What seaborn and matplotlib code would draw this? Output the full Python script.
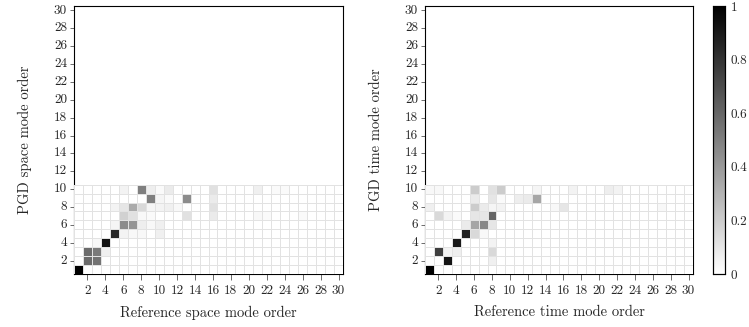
import numpy as np
import pandas as pd
import matplotlib
matplotlib.use("Agg")
import matplotlib.pyplot as plt
import seaborn as sns

# ---- data (sparse: PGD mode row, reference mode column, value) ----
space_rows = [1, 2, 2, 3, 3, 3, 4, 4, 5, 5, 5, 5, 5,
              6, 6, 6, 6, 6, 6,
              7, 7, 7, 7, 7, 7, 7, 7, 7,
              8, 8, 8, 8, 8, 8, 8, 8, 8,
              9, 9, 9, 9, 9,
              10, 10, 10, 10, 10, 10, 10, 10, 10]
space_cols = [1, 2, 3, 2, 3, 4, 3, 4, 5, 6, 7, 8, 10,
              5, 6, 7, 8, 9, 10,
              6, 7, 8, 9, 13, 16, 21, 22, 26,
              5, 6, 7, 8, 9, 10, 11, 12, 16,
              9, 10, 11, 13, 16,
              6, 8, 9, 10, 11, 16, 21, 23, 24]
space_vals = [1.0, 0.58, 0.55, 0.58, 0.52, 0.06, 0.03, 0.93, 0.85, 0.05, 0.03, 0.03, 0.06,
              0.04, 0.45, 0.42, 0.07, 0.03, 0.06,
              0.18, 0.12, 0.03, 0.02, 0.12, 0.08, 0.03, 0.02, 0.02,
              0.05, 0.10, 0.33, 0.15, 0.04, 0.05, 0.06, 0.03, 0.12,
              0.50, 0.04, 0.02, 0.45, 0.08,
              0.05, 0.50, 0.07, 0.02, 0.08, 0.12, 0.06, 0.02, 0.02]

time_rows = [1, 2, 2, 3, 3, 3, 3, 4, 4, 5, 5, 5,
             6, 6, 6, 6,
             7, 7, 7, 7, 7, 7,
             8, 8, 8, 8, 8, 8, 8, 8,
             9, 9, 9, 9, 9, 9,
             10, 10, 10, 10, 10, 10, 10, 10, 10]
time_cols = [1, 3, 8, 2, 3, 4, 8, 4, 8, 5, 6, 7,
             5, 6, 7, 8,
             2, 3, 4, 6, 7, 8,
             1, 6, 7, 8, 9, 15, 16, 27,
             6, 8, 9, 11, 12, 13,
             1, 2, 6, 8, 9, 13, 17, 21, 22]
time_vals = [1.0, 0.92, 0.06, 0.75, 0.05, 0.07, 0.15, 0.90, 0.05, 0.87, 0.15, 0.03,
             0.08, 0.35, 0.47, 0.10,
             0.15, 0.05, 0.02, 0.10, 0.10, 0.60,
             0.06, 0.20, 0.08, 0.04, 0.05, 0.03, 0.10, 0.03,
             0.08, 0.10, 0.02, 0.07, 0.08, 0.35,
             0.03, 0.03, 0.20, 0.12, 0.20, 0.04, 0.05, 0.07, 0.05]

n_pgd = 10
n_ref = 30
tick_labels = [str(v) for v in range(2, 31, 2)]
cbar_ticks = [0, 0.2, 0.4, 0.6, 0.8, 1]
cbar_labels = ["0", "0.2", "0.4", "0.6", "0.8", "1"]


def build(rows, cols, vals):
    m = np.zeros((n_pgd, n_ref))
    for r, c, v in zip(rows, cols, vals):
        m[r - 1, c - 1] = v
    return pd.DataFrame(m, index=range(1, n_pgd + 1), columns=range(1, n_ref + 1))


space_df = build(space_rows, space_cols, space_vals)
time_df = build(time_rows, time_cols, time_vals)

sns.set_theme(style="white")
plt.rcParams["font.family"] = ["cmr10", "DejaVu Serif"]
plt.rcParams["axes.formatter.use_mathtext"] = True
plt.rcParams["mathtext.fontset"] = "cm"

W, H = 749, 327
fig = plt.figure(figsize=(W / 100, H / 100), dpi=100)
bot, top = 53, 321
ax1 = fig.add_axes([74 / W, bot / H, 269 / W, (top - bot) / H])
ax2 = fig.add_axes([425 / W, bot / H, 268 / W, (top - bot) / H])
cax = fig.add_axes([713 / W, bot / H, 12 / W, (top - bot) / H])


def draw(ax, df, xlabel, ylabel, cbar):
    kw = dict(cmap="gray_r", vmin=0, vmax=1, linewidths=0.6, linecolor="#e2e2e2",
              square=False)
    if cbar:
        sns.heatmap(df, ax=ax, cbar=True, cbar_ax=cax, **kw)
    else:
        sns.heatmap(df, ax=ax, cbar=False, **kw)
    for coll in ax.collections:
        coll.set_zorder(3)
    ax.set_xlim(0, n_ref)
    ax.set_ylim(0, n_ref)
    ax.set_aspect("auto")
    for s in ax.spines.values():
        s.set_visible(True)
        s.set_color("black")
        s.set_linewidth(0.8)
    pos = [v - 0.5 for v in range(2, 31, 2)]
    ax.set_xticks(pos)
    ax.set_xticklabels(tick_labels, rotation=0)
    ax.set_yticks(pos)
    ax.set_yticklabels(tick_labels, rotation=0)
    ax.tick_params(axis="x", direction="out", length=4, width=0.6,
                   color="#555555", labelsize=9.5, pad=4, bottom=True)
    ax.tick_params(axis="y", direction="out", length=3, width=0.6,
                   color="#555555", labelsize=9.5, pad=2, left=True)
    ax.set_xlabel(xlabel, fontsize=10.5, labelpad=6)
    ax.set_ylabel(ylabel, fontsize=10.5, labelpad=16)


draw(ax1, space_df, "Reference space mode order", "PGD space mode order", False)
draw(ax2, time_df, "Reference time mode order", "PGD time mode order", True)

cax.set_yticks(cbar_ticks)
cax.set_yticklabels(cbar_labels)
cax.tick_params(labelsize=9.5, length=3, width=0.6, direction="in", right=True, left=True,
                pad=4)
for s in cax.spines.values():
    s.set_visible(True)
    s.set_color("black")
    s.set_linewidth(0.8)

fig.savefig("out.png", dpi=100)
